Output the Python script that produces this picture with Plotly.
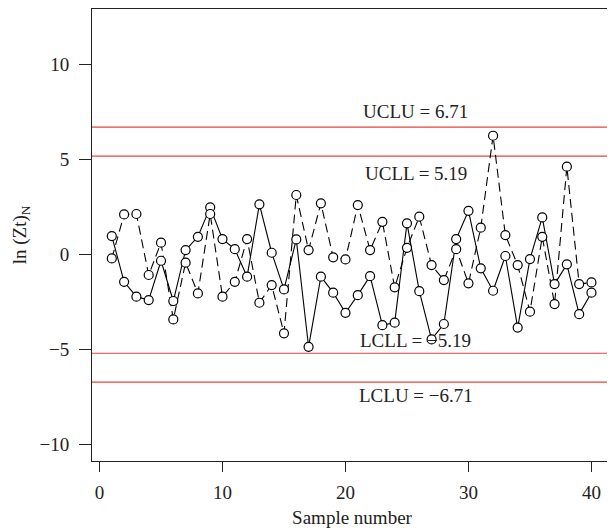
import plotly.graph_objects as go

samples = list(range(1, 41))
series_solid = [0.98, -1.43, -2.21, -2.39, -0.32, -2.44, 0.24, 0.94, 2.49, 0.82,
                0.29, -1.16, 2.65, 0.10, -1.83, 0.80, -4.85, -1.16, -2.00, -3.06,
                -2.13, -1.13, -3.71, -3.58, 1.65, -1.92, -4.46, -3.65, 0.82, 2.31,
                -0.72, -1.90, -0.07, -3.84, -0.23, 1.96, -1.55, -0.51, -3.13, -2.00]
series_dashed = [-0.20, 2.12, 2.14, -1.07, 0.63, -3.41, -0.42, -2.04, 2.14, -2.21,
                 -1.43, 0.82, -2.53, -1.60, -4.14, 3.14, 0.24, 2.70, -0.14, -0.25,
                 2.61, 0.24, 1.73, -1.72, 0.36, 2.00, -0.55, -1.34, 0.29, -1.51,
                 1.42, 6.26, 1.03, -0.55, -3.00, 0.94, -2.60, 4.63, -1.55, -1.46]
limit_names = ["UCLU", "UCLL", "LCLL", "LCLU"]
limit_values = [6.71, 5.19, -5.19, -6.71]
y_ticks = [-10, -5, 0, 5, 10]
x_ticks = [0, 10, 20, 30, 40]

FONT = "Liberation Serif, Times New Roman, serif"
RED = "#e8453c"
FS = 19

fig = go.Figure()

for name, v in zip(limit_names, limit_values):
    fig.add_shape(type="line", xref="paper", x0=0, x1=1, yref="y", y0=v, y1=v,
                  line=dict(color=RED, width=1.2), layer="below")

fig.add_trace(go.Scatter(x=samples, y=series_solid, mode="lines",
                         line=dict(color="black", width=1.1), showlegend=False))
fig.add_trace(go.Scatter(x=samples, y=series_dashed, mode="lines",
                         line=dict(color="black", width=1.1, dash="9px,5px"), showlegend=False))
for ys in (series_solid, series_dashed):
    fig.add_trace(go.Scatter(x=samples, y=ys, mode="markers",
                             marker=dict(symbol="circle", size=9, color="white",
                                         line=dict(color="black", width=1.2)),
                             showlegend=False))

label_y = {"UCLU": 7.55, "UCLL": 4.25, "LCLL": -4.5, "LCLU": -7.4}
for name, v in zip(limit_names, limit_values):
    txt = f"{name} = {v:.2f}".replace("-", "\u2212")
    fig.add_annotation(x=25.7, y=label_y[name], xref="x", yref="y", text=txt,
                       showarrow=False, font=dict(family=FONT, size=FS, color="#222"),
                       xanchor="center", yanchor="middle")

fig.update_layout(
    width=607, height=523,
    margin=dict(l=84, r=3, t=1, b=70),
    plot_bgcolor="white", paper_bgcolor="white",
    font=dict(family=FONT, size=FS, color="#222"),
)
fig.update_xaxes(range=[-0.61, 41.67], tickvals=x_ticks, ticks="outside", ticklen=10,
                 tickcolor="#222", showline=True, linecolor="#222", linewidth=1,
                 mirror=True, showgrid=False, zeroline=False, automargin=False,
                 ticklabelstandoff=4,
                 title=dict(text="Sample number", standoff=8,
                            font=dict(family=FONT, size=FS)))
fig.update_yaxes(range=[-10.86, 12.93], tickvals=y_ticks, ticks="outside", ticklen=12,
                 tickcolor="#222", showline=True, linecolor="#222", linewidth=1,
                 mirror=True, showgrid=False, zeroline=False, automargin=False,
                 ticklabelstandoff=6,
                 title=dict(text="ln (Zt)<sub>N</sub>", standoff=7,
                            font=dict(family=FONT, size=FS)))

fig.write_html("out.html")
